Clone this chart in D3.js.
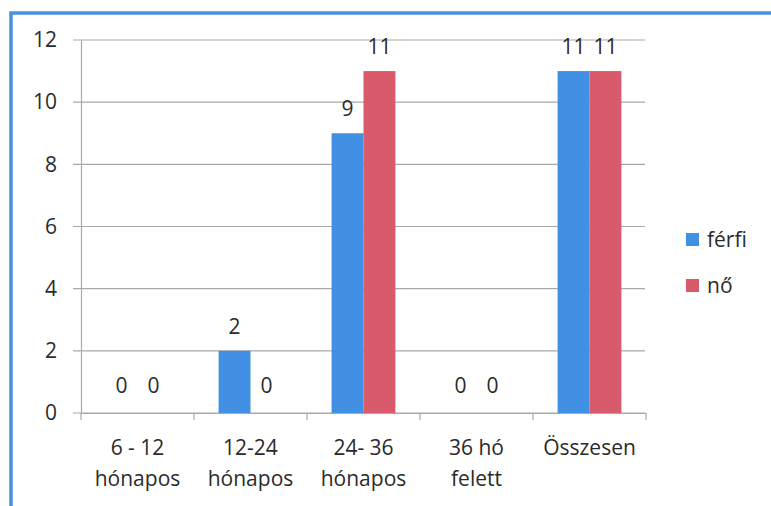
<!DOCTYPE html>
<html>
<head>
<meta charset="utf-8">
<script src="https://cdn.jsdelivr.net/npm/d3@7"></script>
<style>
  body { margin: 0; background: #fff; }
  svg { display: block; font-family: "Open Sans", sans-serif; }
</style>
</head>
<body>
<div id="container"></div>
<script>
const categories = [['6 - 12', 'hónapos'], ['12-24', 'hónapos'], ['24- 36', 'hónapos'], ['36 hó', 'felett'], ['Összesen']]
const seriesNames = ['férfi', 'nő']
const ferfi = [0, 2, 9, 0, 11]
const no = [0, 0, 11, 0, 11]
const yTicks = [0, 2, 4, 6, 8, 10, 12]

const colors = ['#4290e3', '#d85a6b']
const w = 771
const h = 506
const textColor = '#2b2b2b'

const svg = d3.select('#container')
    .append('svg')
    .attr('width', w)
    .attr('height', h)

// scanned frame
svg.append('rect')
    .attr('x', 11)
    .attr('y', 13)
    .attr('width', 800)
    .attr('height', 600)
    .attr('fill', 'none')
    .attr('stroke', '#4a8fe2')
    .attr('stroke-width', 3.5)

const keys = categories.map(c => c.join(' '))
const x0 = d3.scaleBand(keys, [81, 646]).paddingInner(0).paddingOuter(0)
const x1 = d3.scaleBand(seriesNames, [0, x0.bandwidth()]).paddingInner(0).paddingOuter(0.77)
const y = d3.scaleLinear([0, 12], [413, 40])

// gridlines
svg.append('g')
    .selectAll('line')
    .data(yTicks)
    .enter()
    .append('line')
    .attr('x1', 73)
    .attr('x2', 645)
    .attr('y1', d => y(d))
    .attr('y2', d => y(d))
    .attr('stroke', '#a9a9a9')
    .attr('stroke-width', 1.2)

// y axis
const axisY = d3.axisLeft(y).tickValues(yTicks).tickSize(0).tickPadding(24)
const gy = svg.append('g')
    .attr('transform', 'translate(81,0)')
    .call(axisY)
gy.select('.domain').attr('stroke', '#a9a9a9').attr('stroke-width', 1.2)
gy.selectAll('text')
    .attr('font-size', 21)
    .attr('font-family', '"Open Sans", sans-serif')
    .attr('fill', textColor)

// x axis
const axisX = d3.axisBottom(x0).tickSize(0).tickFormat('')
const gx = svg.append('g')
    .attr('transform', `translate(0,${y(0)})`)
    .call(axisX)
gx.select('.domain').attr('stroke', '#a9a9a9').attr('stroke-width', 1.2)
gx.selectAll('.sep')
    .data(x0.domain().concat(['end']))
    .enter()
    .append('line')
    .attr('class', 'sep')
    .attr('x1', (d, i) => i < keys.length ? x0(d) : x0(keys[keys.length - 1]) + x0.bandwidth())
    .attr('x2', (d, i) => i < keys.length ? x0(d) : x0(keys[keys.length - 1]) + x0.bandwidth())
    .attr('y1', 0)
    .attr('y2', 7)
    .attr('stroke', '#a9a9a9')
    .attr('stroke-width', 1.2)

const catLabels = svg.append('g')
categories.forEach((lines, i) => {
    const t = catLabels.append('text')
        .attr('x', x0(keys[i]) + x0.bandwidth() / 2)
        .attr('y', 455)
        .attr('text-anchor', 'middle')
        .attr('font-size', 21)
        .attr('fill', textColor)
    lines.forEach((l, j) => {
        t.append('tspan')
            .attr('x', x0(keys[i]) + x0.bandwidth() / 2)
            .attr('dy', j === 0 ? 0 : 31)
            .text(l)
    })
})

// bars
const rows = keys.map((k, i) => ({ key: k, vals: [ferfi[i], no[i]] }))
const groups = svg.selectAll('.grp')
    .data(rows)
    .enter()
    .append('g')
    .attr('class', 'grp')
    .attr('transform', d => `translate(${x0(d.key)},0)`)

groups.selectAll('rect')
    .data(d => d.vals.map((v, s) => ({ v, s })))
    .enter()
    .append('rect')
    .attr('x', d => x1(seriesNames[d.s]))
    .attr('width', x1.bandwidth())
    .attr('y', d => y(d.v))
    .attr('height', d => y(0) - y(d.v))
    .attr('fill', d => colors[d.s])

groups.selectAll('.lbl')
    .data(d => d.vals.map((v, s) => ({ v, s })))
    .enter()
    .append('text')
    .attr('class', 'lbl')
    .attr('x', d => x1(seriesNames[d.s]) + x1.bandwidth() / 2)
    .attr('y', d => y(d.v) - (d.v === 0 ? 20 : 17))
    .attr('text-anchor', 'middle')
    .attr('font-size', 21)
    .attr('fill', textColor)
    .text(d => d.v)

// legend
const legend = svg.append('g')
    .attr('transform', 'translate(686,240)')
seriesNames.forEach((n, i) => {
    legend.append('rect')
        .attr('x', 0)
        .attr('y', i * 46 - 7)
        .attr('width', 13)
        .attr('height', 13)
        .attr('fill', colors[i])
    legend.append('text')
        .attr('x', 21)
        .attr('y', i * 46)
        .attr('dy', '0.35em')
        .attr('font-size', 21)
        .attr('fill', textColor)
        .text(n)
})
</script>
</body>
</html>
